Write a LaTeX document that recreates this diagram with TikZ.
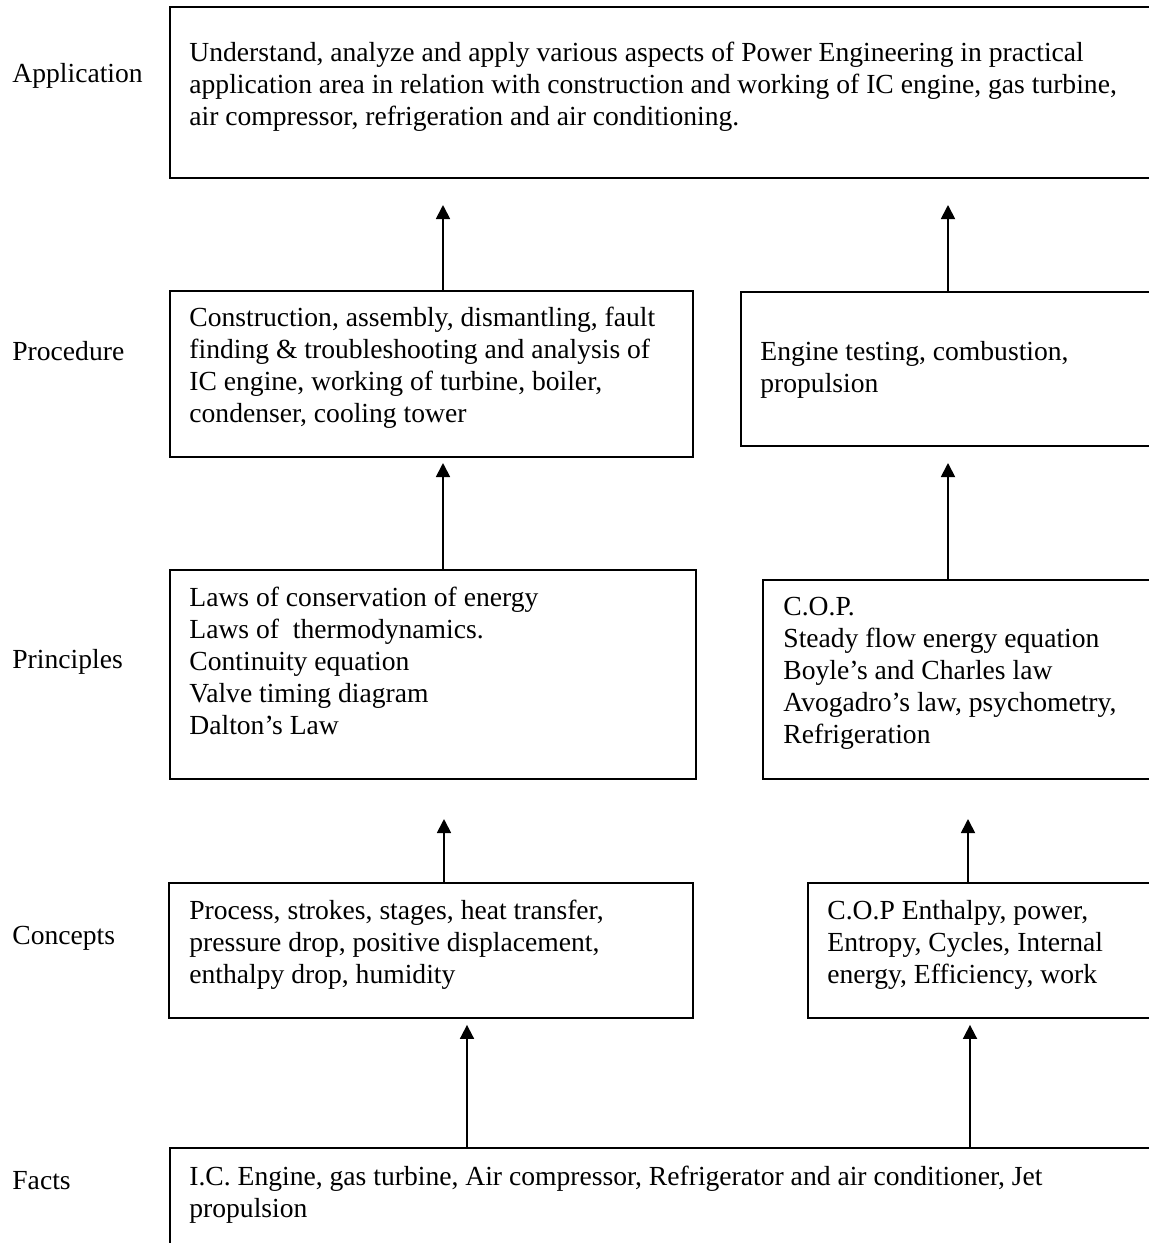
\documentclass[tikz,border=0pt]{standalone}
\usepackage{fontspec}
\setmainfont{Liberation Serif}
\usetikzlibrary{arrows.meta,fit}
\begin{document}
\begin{tikzpicture}[x=0.5pt,y=-0.5pt,
  box/.style={draw, line width=0.9pt, rectangle, inner sep=0pt},
  txt/.style={anchor=north west, inner sep=0pt, align=left, font=\fontsize{13.8}{16}\selectfont},
  lbl/.style={anchor=west, inner sep=0pt, font=\fontsize{13.8}{16}\selectfont},
  arr/.style={line width=0.9pt, -{Triangle[length=7pt,width=7pt]}}]
\useasboundingbox (0,0) rectangle (1149,1243);
\clip (0,0) rectangle (1149,1243);
% boxes
\node[box, fit={(170,7) (1165,178)}] (app) {};
\node[box, fit={(170,291) (693,457)}] (proc1) {};
\node[box, fit={(741,292) (1165,446)}] (proc2) {};
\node[box, fit={(170,570) (696,779)}] (princ1) {};
\node[box, fit={(763,580) (1165,779)}] (princ2) {};
\node[box, fit={(169,883) (693,1018)}] (conc1) {};
\node[box, fit={(808,883) (1165,1018)}] (conc2) {};
\node[box, fit={(170,1148) (1165,1260)}] (facts) {};
% texts
\node[txt] (appT) at (189,42) {Understand, analyze and apply various aspects of Power Engineering in practical\\application area in relation with construction and working of IC engine, gas turbine,\\air compressor, refrigeration and air conditioning.};
\node[txt] (proc1T) at (189,307) {Construction, assembly, dismantling, fault\\finding \& troubleshooting and analysis of\\IC engine, working of turbine, boiler,\\condenser, cooling tower};
\node[txt] (proc2T) at (760,341) {Engine testing, combustion,\\propulsion};
\node[txt] (princ1T) at (189,587) {Laws of conservation of energy\\Laws of\ \ thermodynamics.\\Continuity equation\\Valve timing diagram\\Dalton’s Law};
\node[txt] (princ2T) at (783,597) {C.O.P.\\Steady flow energy equation\\Boyle’s and Charles law\\Avogadro’s law, psychometry,\\Refrigeration};
\node[txt] (conc1T) at (189,900) {Process, strokes, stages, heat transfer,\\pressure drop, positive displacement,\\enthalpy drop, humidity};
\node[txt] (conc2T) at (827,900) {C.O.P Enthalpy, power,\\Entropy, Cycles, Internal\\energy, Efficiency, work};
\node[txt] (factsT) at (189,1166) {I.C. Engine, gas turbine, Air compressor, Refrigerator and air conditioner, Jet\\propulsion};
% level labels
\node[lbl] (lApp) at (12,76) {Application};
\node[lbl] (lProc) at (12,351) {Procedure};
\node[lbl] (lPrinc) at (12,662) {Principles};
\node[lbl] (lConc) at (12,938) {Concepts};
\node[lbl] (lFacts) at (12,1181) {Facts};
% arrow tips in free space
\coordinate (t1) at (443,205);
\coordinate (t2) at (948,205);
\coordinate (t3) at (443,463);
\coordinate (t4) at (948,463);
\coordinate (t5) at (444,819);
\coordinate (t6) at (968,819);
\coordinate (x7) at (467,0);
\coordinate (x8) at (970,0);
% connectors
\draw[arr] (proc1.north -| t1) -- (t1);
\draw[arr] (proc2.north -| t2) -- (t2);
\draw[arr] (princ1.north -| t3) -- (t3);
\draw[arr] (princ2.north -| t4) -- (t4);
\draw[arr] (conc1.north -| t5) -- (t5);
\draw[arr] (conc2.north -| t6) -- (t6);
\draw[arr, shorten >=3pt] (facts.north -| x7) -- (conc1.south -| x7);
\draw[arr, shorten >=3pt] (facts.north -| x8) -- (conc2.south -| x8);
\end{tikzpicture}
\end{document}
